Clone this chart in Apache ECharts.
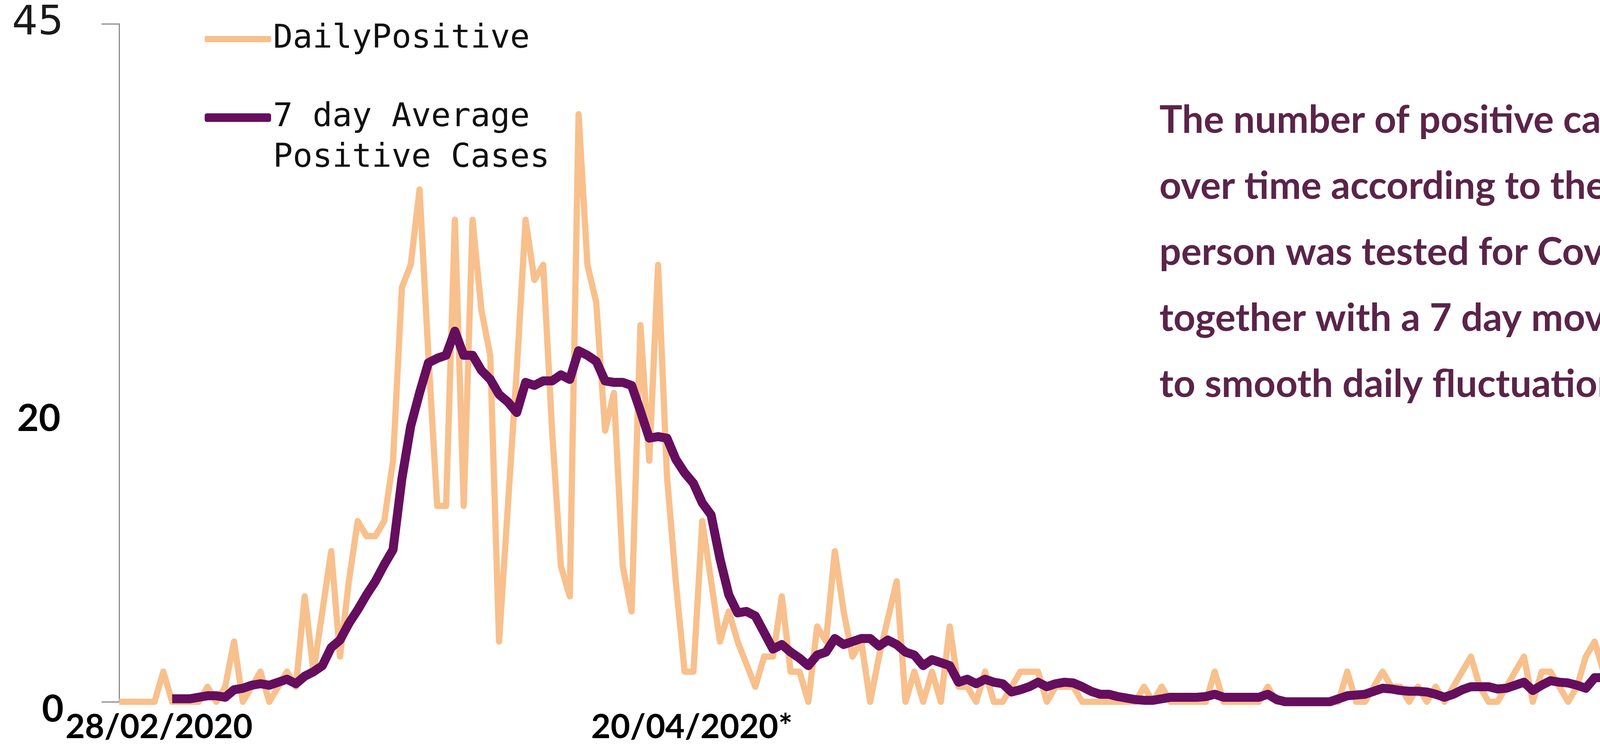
<!DOCTYPE html>
<html>
<head>
<meta charset="utf-8">
<script src="https://cdn.jsdelivr.net/npm/echarts@6/dist/echarts.min.js"></script>
<style>
html,body{margin:0;padding:0;background:#ffffff;overflow:hidden;}
#chart{width:4775px;height:1904px;}
</style>
</head>
<body>
<div id="chart"></div>
<script>
// ---- data ----
const startDate = [2020, 1, 28];   // 28/02/2020 (month 0-based)
const dayCount = 194;              // 28/02/2020 .. 08/09/2020

const dailyPositive = [
  0,0,0,0,0,2,0,0,0,0,
  1,0,1,4,0,1,2,0,1,2,
  1,7,2,6,10,3,8,12,11,11,
  12,16,27.5,29,34,23,13,13,32,13,
  32,26,23,4,13,22,32,28,29,18,
  9,7,39,29,26.5,18,20.5,9,6,25,
  16,29,15,8,2,2,12,8,4,6,
  4,2.5,1,3,3,7,2,2,0,5,
  4,10,6,3,4,0,3,5.5,8,0,
  2,0,2,0,5,1,1,0,2,0,
  0,1,2,2,2,0,1,1,1,0,
  0,0,0,0,0,0,1,0,1,0,
  0,0,0,0,2,0,0,0,0,0,
  1,0,0,0,0,0,0,0,0,2,
  0,0,1,2,1,1,0,1,0,1,
  0,1,2,3,1,0,0,1,2,3,
  0,2,2,1,0,1,3,4,2,2,
  0,0,2,1,3,5,1,1,0,2,
  4,4,2.5,1,4,0,5,5,1,6,
  2,4,2.5,1
];

const sevenDayAverage = [
  null,null,null,null,null,null,0.2,0.2,0.2,0.3,
  0.4,0.4,0.3,0.8,0.9,1.1,1.2,1.1,1.3,1.5,
  1.2,1.7,2.0,2.4,3.6,4.1,5.2,6.1,7.1,8.0,
  9.1,10.1,14.8,18.3,20.5,22.5,22.8,23.0,24.6,23.0,
  23.0,22.0,21.4,20.4,19.9,19.2,21.2,21.0,21.3,21.3,
  21.7,21.4,23.3,23.0,22.6,21.3,21.2,21.2,21.0,19.3,
  17.5,17.6,17.5,16.1,15.2,14.5,13.2,12.4,9.5,7.1,
  5.9,6.0,5.7,4.6,3.5,3.8,3.3,2.9,2.4,3.1,
  3.3,4.2,3.8,4.0,4.2,4.2,3.7,4.1,3.8,3.3,
  3.1,2.4,2.8,2.6,2.4,1.3,1.5,1.2,1.5,1.3,
  1.2,0.65,0.8,1.0,1.3,1.0,1.2,1.3,1.25,1.0,
  0.7,0.5,0.5,0.35,0.25,0.15,0.1,0.1,0.2,0.3,
  0.3,0.3,0.3,0.35,0.5,0.3,0.3,0.3,0.3,0.3,
  0.5,0.15,0,0,0,0,0,0,0.2,0.4,
  0.45,0.5,0.7,0.9,0.85,0.75,0.7,0.7,0.65,0.5,
  0.3,0.5,0.8,1.0,1.0,1.0,0.85,0.9,1.1,1.3,
  0.75,1.1,1.4,1.3,1.25,1.1,0.9,1.6,1.6,1.6,
  1.6,1.6,1.7,1.5,1.25,1.9,1.6,1.7,1.75,1.85,
  2.2,2.45,1.95,2.3,2.55,2.6,2.85,3.05,2.45,3.2,
  3.35,3.5,3.8,3.1
];

const xTickIndex = [0, 52, 193];
const xTickText = ['28/02/2020', '20/04/2020*', '08/09/2020'];
const yTickValues = [0, 20, 45];
const yAxisTickMarks = [0, 45];
const seriesNames = ['DailyPositive', '7 day Average Positive Cases'];
const legendLines = ['7 day Average', 'Positive Cases'];
const noteLines = [
  'The number of positive cases is shown',
  'over time according to the date the',
  'person was tested for Covid-19',
  'together with a 7 day moving average',
  'to smooth daily fluctuations.'
];

// ---- categories (dates) ----
const categories = [];
for (let i = 0; i < dayCount; i++) {
  const d = new Date(Date.UTC(startDate[0], startDate[1], startDate[2] + i));
  const dd = String(d.getUTCDate()).padStart(2, '0');
  const mm = String(d.getUTCMonth() + 1).padStart(2, '0');
  categories.push(dd + '/' + mm + '/' + d.getUTCFullYear());
}

const ORANGE = '#F8C08C';
const PURPLE = '#650E5E';
const NOTE = '#5B2449';
const AXIS = '#8C8C8C';

const xLabelFont = {fontFamily: 'Lato', fontWeight: 'bold', fontSize: 86, color: '#000'};
const legendFont = {fontFamily: 'DejaVu Sans Mono', fontSize: 84, lineHeight: 104, color: '#111'};

const chart = echarts.init(document.getElementById('chart'), null, {renderer: 'canvas'});
chart.setOption({
  backgroundColor: '#ffffff',
  animation: false,
  title: {
    text: noteLines.join('\n'),
    left: 2968,
    top: 224,
    padding: 0,
    textStyle: {
      fontFamily: 'Lato', fontWeight: 'bold', fontSize: 98,
      lineHeight: 169, color: NOTE
    }
  },
  legend: [
    {
      data: [seriesNames[0]],
      left: 524, top: 48, padding: 0,
      icon: 'roundRect', itemWidth: 170, itemHeight: 16,
      itemStyle: {borderRadius: 8},
      textStyle: legendFont
    },
    {
      data: [seriesNames[1]],
      left: 524, top: 145, padding: 0,
      icon: 'roundRect', itemWidth: 170, itemHeight: 22,
      formatter: function () { return '\n' + legendLines.join('\n'); },
      textStyle: legendFont
    }
  ],
  grid: {left: 305, right: 100, top: 61, bottom: 98, containLabel: false},
  xAxis: {
    type: 'category',
    data: categories,
    boundaryGap: false,
    axisLine: {show: false},
    axisTick: {show: false},
    splitLine: {show: false},
    axisLabel: {
      interval: function (index) { return xTickIndex.indexOf(index) >= 0; },
      showMinLabel: true, showMaxLabel: true,
      margin: 22,
      hideOverlap: false,
      formatter: function (value, index) {
        const k = xTickIndex.indexOf(index);
        if (k < 0) return '';
        return '{l' + k + '|' + xTickText[k] + '}';
      },
      rich: {
        l0: Object.assign({padding: [0, 0, 0, 204]}, xLabelFont),
        l1: Object.assign({padding: [0, 0, 0, 580]}, xLabelFont),
        l2: Object.assign({padding: [0, 276, 0, 0]}, xLabelFont)
      }
    }
  },
  yAxis: {
    type: 'value',
    min: 0, max: 45, interval: 5,
    splitLine: {show: false},
    axisLine: {show: true, lineStyle: {color: AXIS, width: 3}},
    axisTick: {show: true, customValues: yAxisTickMarks, length: 45, lineStyle: {color: AXIS, width: 3}},
    axisLabel: {
      customValues: yTickValues,
      margin: 142,
      formatter: function (v) {
        if (v === 45) return '{a|45}';
        if (v === 20) return '{b|20}';
        return '{c|0}';
      },
      rich: {
        a: {fontFamily: 'DejaVu Sans', fontSize: 104, color: '#1a1a1a'},
        b: {fontFamily: 'Lato', fontWeight: 'bold', fontSize: 96, color: '#000', padding: [94, 8, 0, 0]},
        c: {fontFamily: 'Lato', fontWeight: 'bold', fontSize: 96, color: '#000', padding: [40, 0, 0, 0]}
      }
    }
  },
  series: [
    {
      name: seriesNames[0],
      type: 'line',
      data: dailyPositive,
      showSymbol: false,
      symbol: 'none',
      lineStyle: {color: ORANGE, width: 16, join: 'round'},
      itemStyle: {color: ORANGE},
      z: 2
    },
    {
      name: seriesNames[1],
      type: 'line',
      data: sevenDayAverage,
      showSymbol: false,
      symbol: 'none',
      connectNulls: false,
      lineStyle: {color: PURPLE, width: 23, join: 'round'},
      itemStyle: {color: PURPLE},
      z: 3
    }
  ]
});
</script>
</body>
</html>
